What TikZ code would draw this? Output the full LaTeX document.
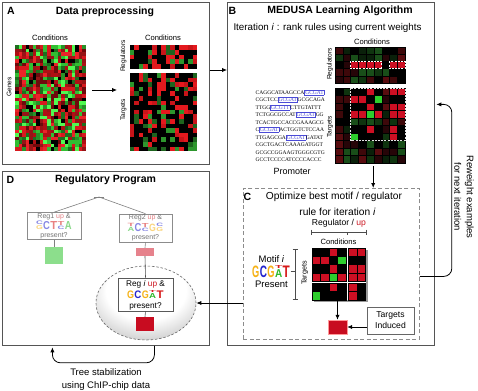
\documentclass[tikz,border=0pt]{standalone}
\usepackage{fontspec}
\setmainfont{Liberation Sans}
\newfontfamily\seqfont{Liberation Serif}
\usepackage{graphicx}
\usetikzlibrary{arrows.meta,shapes.geometric}

\definecolor{lgG}{RGB}{246,178,22}
\definecolor{lgC}{RGB}{35,35,205}
\definecolor{lgT}{RGB}{215,25,25}
\definecolor{lgA}{RGB}{45,185,45}
\definecolor{upred}{RGB}{205,25,35}
\definecolor{cR}{RGB}{205,15,35}
\definecolor{cG}{RGB}{45,205,45}
\colorlet{cK}{black}
\definecolor{boxblue}{RGB}{75,75,215}
\definecolor{sqred}{RGB}{200,12,32}
\definecolor{sqgreen}{RGB}{140,222,140}
\definecolor{sqpink}{RGB}{230,130,140}
\definecolor{panelgray}{RGB}{85,85,85}
% palette A left
\definecolor{pa0}{RGB}{0,0,0}
\definecolor{pa1}{RGB}{30,110,30}
\definecolor{pa2}{RGB}{50,190,50}
\definecolor{pa3}{RGB}{80,250,80}
\definecolor{pa4}{RGB}{110,10,12}
\definecolor{pa5}{RGB}{175,15,20}
\definecolor{pa6}{RGB}{235,35,40}
\definecolor{pa7}{RGB}{150,20,22}
\definecolor{pa8}{RGB}{40,145,40}
\definecolor{pa9}{RGB}{215,25,30}
% palette A right
\colorlet{pb0}{black}\colorlet{pb1}{black}\colorlet{pb2}{black}\colorlet{pb3}{black}\colorlet{pb4}{black}
\definecolor{pb5}{RGB}{228,25,30}\definecolor{pb6}{RGB}{228,25,30}\definecolor{pb7}{RGB}{200,20,25}
\definecolor{pb8}{RGB}{30,100,30}\definecolor{pb9}{RGB}{45,150,45}
% palette B dark
\colorlet{pc0}{black}\colorlet{pc1}{black}
\definecolor{pc2}{RGB}{15,52,15}
\definecolor{pc3}{RGB}{25,78,25}
\definecolor{pc4}{RGB}{10,32,10}
\definecolor{pc5}{RGB}{62,8,10}
\definecolor{pc6}{RGB}{38,5,8}
\definecolor{pc7}{RGB}{88,12,15}

\pgfdeclareradialshading{ellsh}{\pgfpoint{0bp}{12bp}}{color(0bp)=(white); color(20bp)=(white); color(47bp)=(black!40); color(70bp)=(black!40)}

\newcommand{\LG}[4]{\resizebox{#1pt}{#2pt}{\textcolor{#3}{\bfseries #4}}\kern0.4pt}
\newcommand{\LGS}[7]{\rlap{\raisebox{\dimexpr#5pt+0.6pt\relax}{\LG{#1}{#2}{#3}{#4}}}\LG{#1}{#5}{#6}{#7}}
\newcommand{\bx}[1]{{\setlength{\fboxsep}{0.4pt}\setlength{\fboxrule}{0.45pt}\textcolor{boxblue}{\fbox{#1}}}}

\begin{document}
\begin{tikzpicture}[x=1pt,y=-1pt,
  panel/.style={draw=panelgray, line width=0.8pt, inner sep=0pt, anchor=north west},
  arr/.style={-{Latex[length=5pt,width=4.2pt]}, line width=0.8pt},
  ttl/.style={inner sep=0pt, font=\fontsize{10.5}{12}\selectfont\bfseries},
  txt/.style={inner sep=0pt, font=\fontsize{9.8}{12}\selectfont},
  small/.style={inner sep=0pt, font=\fontsize{7.6}{9}\selectfont},
  tiny/.style={inner sep=0pt, font=\fontsize{6.6}{8}\selectfont},
  hm/.style={inner sep=0pt, minimum width=#1, anchor=north west},
  dbox/.style={draw=black!45, line width=0.6pt, inner sep=0pt, fill=white},
  dtxt/.style={inner sep=0pt, text=black!55, font=\fontsize{7}{8}\selectfont},
  etxt/.style={inner sep=0pt, font=\fontsize{8.3}{9}\selectfont},
  tline/.style={draw=black!50, line width=0.6pt}
]
\useasboundingbox (0,0) rectangle (478,390);
\fill[white] (0,0) rectangle (478,390);

% ---------------- panels ----------------
\node[panel, minimum width=207pt, minimum height=162pt] (pA) at (2,2) {};
\node[panel, minimum width=207pt, minimum height=343pt] (pB) at (227,2) {};
\node[panel, minimum width=207pt, minimum height=174pt] (pD) at (2,171) {};
\node[panel, draw=black!45, dashed, dash pattern=on 4pt off 2.5pt, minimum width=176pt, minimum height=151pt] (pC) at (243,188) {};

% ---------------- panel A ----------------
\node[ttl] (lA) at (11,11) {A};
\node[ttl] (tA) at (105,12) {Data preprocessing};
\node[small] (cA1) at (50,38) {Conditions};
\node[small] (cA2) at (163,38) {Conditions};
\node[tiny, rotate=90] (gA) at (9,87) {Genes};
\node[tiny, rotate=90] (rA) at (123.5,56) {Regulators};
\node[tiny, rotate=90] (tgA) at (123.5,110) {Targets};

\pgfmathsetseed{4321}
\foreach \i in {0,...,19}{
  \foreach \j in {0,...,29}{
    \pgfmathrandominteger{\r}{0}{9}
    \fill[fill=pa\r] ({15+\i*3.55},{45+\j*3.53}) rectangle ++(3.6,3.58);
  }
}
\node[hm=71pt, minimum height=106pt] (hmAL) at (15,45) {};
\foreach \i in {0,...,14}{
  \foreach \j in {0,...,4}{
    \pgfmathrandominteger{\r}{0}{9}
    \fill[fill=pb\r] ({129.5+\i*4.5},{45+\j*4.8}) rectangle ++(4.55,4.85);
  }
  \foreach \j in {0,...,16}{
    \pgfmathrandominteger{\r}{0}{9}
    \fill[fill=pb\r] ({129.5+\i*4.5},{73+\j*4.6}) rectangle ++(4.55,4.65);
  }
}
\node[hm=67.5pt, minimum height=24pt] (hmAR) at (129.5,45) {};
\node[hm=67.5pt, minimum height=78pt] (hmAT) at (129.5,73) {};
\coordinate (aAs) at (92,90);
\coordinate (aAe) at (117,90);
\draw[arr] (aAs) -- (aAe);

\draw[arr] (pA.east |- 0,70) -- (pB.west |- 0,70);

% ---------------- panel B ----------------
\node[ttl] (lB) at (232.5,10.5) {B};
\node[ttl] (tB) at (340,11) {MEDUSA Learning Algorithm};
\node[txt] (itB) at (327.5,28) {Iteration \textit{i} : rank rules using current weights};
\node[small] (cB) at (372,42) {Conditions};
\node[tiny, rotate=90] (rB) at (330,64) {Regulators};
\node[tiny, rotate=90] (tgB) at (330,127) {Targets};

\pgfmathsetseed{777}
\foreach \i in {0,...,8}{
  \foreach \j in {0,...,4}{
    \pgfmathrandominteger{\r}{0}{7}
    \filldraw[fill=pc\r, draw=black, line width=0.3pt] ({335+\i*7.78},{47+\j*7.2}) rectangle ++(7.78,7.2);
  }
  \foreach \j in {0,...,9}{
    \pgfmathrandominteger{\r}{0}{7}
    \filldraw[fill=pc\r, draw=black, line width=0.3pt] ({335+\i*7.78},{88+\j*7.5}) rectangle ++(7.78,7.5);
  }
}
% regulator row
\foreach \i in {2,3,4,5,7,8}{
  \filldraw[fill=cR, draw=black, line width=0.3pt] ({335+\i*7.78},{47+2*7.2}) rectangle ++(7.78,7.2);
}
\draw[white, line width=0.7pt, dash pattern=on 2pt off 1.2pt] ({335+2*7.78},{47+2*7.2}) rectangle ++({4*7.78},7.2);
\draw[white, line width=0.7pt, dash pattern=on 2pt off 1.2pt] ({335+7*7.78},{47+2*7.2}) rectangle ++({2*7.78},7.2);
% target region
\foreach \i in {2,3,4,5,7,8}{
  \foreach \j in {0,1,2,3,5,6}{
    \filldraw[fill=black, draw=black, line width=0.3pt] ({335+\i*7.78},{88+\j*7.5}) rectangle ++(7.78,7.5);
  }
}
\foreach \i/\j/\c in {4/0/cR,7/0/cR,8/0/cR,2/1/cR,3/1/cR,5/1/cG,4/2/cR,7/2/cR,8/2/cR,
  2/3/cR,3/3/cR,4/3/cG,5/3/cR,7/3/cR,8/3/cR,2/4/pc3,3/4/pc2,4/4/pc3,5/4/pc2,4/5/cR,7/5/cR,2/6/cG,7/6/cR}{
  \filldraw[fill=\c, draw=black, line width=0.3pt] ({335+\i*7.78},{88+\j*7.5}) rectangle ++(7.78,7.5);
}
\draw[white!80!gray, line width=0.7pt, dash pattern=on 2pt off 1.2pt] ({335+2*7.78},88) rectangle (405,{88+7*7.5});
\node[hm=70pt, minimum height=36pt] (hmBR) at (335,47) {};
\node[hm=70pt, minimum height=75pt] (hmBT) at (335,88) {};

\node[inner sep=0pt, anchor=north west, align=left, font=\seqfont\fontsize{5.5}{7.5}\selectfont] (prom) at (255.5,89.5) {%
CAGGCATAAGCCA\bx{GCGAT}\\
CGCTCC\bx{GCGAT}GCGCAGA\\
TTGG\bx{GCGTT}CTTGTATTT\\
TCTGGCGCCAT\bx{GCGAT}GG\\
TCACTGCCACCGAAAGCG\\
C\bx{GCGAT}ACTGGTCTCCAA\\
TTGAGCGA\bx{GCGAT}GATAT\\
CGCTGACTCAAAGATGGT\\
GCGCCGGAAGTGGGCGTG\\
GCCTCCCCATCCCCACCC};
\node[inner sep=0pt, font=\fontsize{9}{10}\selectfont] (promL) at (292,171) {Promoter};

\draw[arr] ([xshift=3pt,yshift=-3pt]hmBT.south) -- ([xshift=3pt]hmBT.south |- pC.north);

% feedback loop
\draw[arr, rounded corners=8pt] ([yshift=-12.5pt]pC.east) -- ++(32,0) |- ([xshift=1.5pt,yshift=69.5pt]pB.east);
\node[inner sep=0pt, rotate=-90, align=center, font=\fontsize{9.5}{12.5}\selectfont] (rw) at (464,197) {Reweight examples\\for next iteration};

% ---------------- panel C ----------------
\node[ttl] (lC) at (247.5,196.5) {C};
\node[txt, font=\fontsize{10.2}{12}\selectfont] (tC1) at (334,197) {Optimize best motif / regulator};
\node[txt, font=\fontsize{10.2}{12}\selectfont] (tC2) at (337.5,211.5) {rule for iteration \textit{i}};
\node[inner sep=0pt, font=\fontsize{8.6}{10}\selectfont] (regC) at (339,223.5) {Regulator / \textcolor{upred}{up}};
\draw[line width=0.6pt, black!70] (311,232) -- (366,232) (311,229.5) -- (311,234.5) (366,229.5) -- (366,234.5) (347,232) -- (347,234.5);
\node[small] (cC) at (338.5,241.5) {Conditions};
\node[inner sep=0pt, font=\fontsize{9.5}{11}\selectfont] (motC) at (271.5,259.5) {Motif \textit{i}};
\node[inner sep=0pt, anchor=base west] (logoC) at (252,277) {\LG{7.2}{11.5}{lgG}{G}\LG{7.2}{11.5}{lgC}{C}\LG{7.2}{11.5}{lgG}{G}\LGS{7.2}{3}{lgT}{T}{7.9}{lgA}{A}\LG{7.2}{11.5}{lgT}{T}};
\node[inner sep=0pt, font=\fontsize{9.5}{11}\selectfont] (preC) at (271.5,284) {Present};
\draw[line width=0.6pt, black!70] (295,249) -- (295,299) (292.5,249) -- (297.5,249) (292.5,299) -- (297.5,299) (290.5,271) -- (295,271);
\node[tiny, font=\fontsize{7.2}{8}\selectfont, rotate=90] (tgC) at (305,273) {Targets};

\fill[black!40] (314,250) rectangle (367.5,302);
\fill[white] (312,248) rectangle (365.5,300);
\foreach \c [count=\k from 0] in {cK,cK,cR,cK,cR,cR, cR,cR,cK,cG,cK,cK, cK,cK,cR,cK,cR,cR, cR,cR,cG,cR,cR,cR, cK,cK,cR,cK,cR,cK, cG,cK,cK,cK,cR,cK}{
  \pgfmathtruncatemacro{\hcol}{mod(\k,6)}
  \pgfmathtruncatemacro{\hrow}{\k/6}
  \pgfmathsetmacro{\xx}{\hcol<4 ? 312+\hcol*8.5 : 348.5+(\hcol-4)*8.5}
  \pgfmathsetmacro{\yy}{\hrow<4 ? 248+\hrow*8.25 : 283+(\hrow-4)*8.5}
  \pgfmathsetmacro{\hh}{\hrow<4 ? 8.25 : 8.5}
  \filldraw[fill=\c, draw=black, line width=0.3pt] (\xx,\yy) rectangle ++(8.5,\hh);
}
\node[hm=53.5pt, minimum height=52pt] (hmC) at (312,248) {};

\node[inner sep=0pt, minimum width=19pt, minimum height=14pt, fill=sqred, draw=red!40, line width=0.4pt] (crC) at (337.5,327) {};
\node[draw=black!60, line width=0.6pt, inner sep=0pt, minimum width=47pt, minimum height=27pt, align=center, font=\fontsize{8.6}{11}\selectfont] (ti) at (390.5,320.5) {Targets\\Induced};
\draw[arr] (hmC.south -| crC.north) -- (crC.north);
\draw[arr] (ti.west |- crC.east) -- (crC.east);

% ---------------- panel D ----------------
\node[ttl] (lD) at (10.5,179.5) {D};
\node[ttl] (tD) at (105.5,179.5) {Regulatory Program};

\node[inner sep=0pt, minimum width=10pt, minimum height=0pt] (root) at (99,197) {};
\draw[tline] (root.west) -- (root.east);

\node[dbox, minimum width=54pt, minimum height=27pt] (lb) at (54,226) {};
\node[dbox, minimum width=53pt, minimum height=28pt] (rb) at (145.5,228) {};
\draw[tline] (root.center) -- (lb.north);
\draw[tline] (root.center) -- (rb.north);

\node[dtxt] (lb1) at (54,216.5) {Reg1 \textcolor{upred!55!white}{up} \&};
\node[inner sep=0pt, anchor=base] (lb2) at (54,229) {\LGS{6.8}{3.6}{lgC!55!white}{C}{3.9}{lgG!55!white}{G}\LG{6.8}{8}{lgC!55!white}{C}\LG{6.8}{8}{lgT!55!white}{T}\LGS{6.8}{4}{lgT!55!white}{T}{3.4}{lgC!55!white}{C}\LG{6.8}{8}{lgA!55!white}{A}};
\node[dtxt] (lb3) at (54,235.5) {present?};

\node[dtxt] (rb1) at (145.5,218) {Reg2 \textcolor{upred!55!white}{up} \&};
\node[inner sep=0pt, anchor=base] (rb2) at (145.5,231) {\LGS{6.8}{3.2}{lgT!55!white}{T}{4.2}{lgA!55!white}{A}\LG{6.8}{8}{lgC!55!white}{C}\LGS{6.8}{4}{lgT!55!white}{T}{3.4}{lgC!55!white}{C}\LG{6.8}{7.4}{lgG!55!white}{G}\LGS{6.8}{3.4}{lgC!55!white}{C}{4}{lgG!55!white}{G}};
\node[dtxt] (rb3) at (145.5,238) {present?};

\node[inner sep=0pt, minimum width=18pt, minimum height=17pt, fill=sqgreen] (gsq) at (54,255.5) {};
\node[inner sep=0pt, minimum width=18pt, minimum height=8pt, fill=sqpink] (psq) at (145,252) {};
\draw[tline] (lb.south) -- (gsq.north);
\draw[tline] (rb.south) -- (psq.north);

\node[ellipse, draw=black!60, line width=0.6pt, dash pattern=on 2.5pt off 1.8pt, minimum width=100pt, minimum height=74pt, shading=ellsh] (el) at (146,303) {};
\node[draw=black!65, line width=0.6pt, inner sep=0pt, fill=white, minimum width=55pt, minimum height=33pt] (eb) at (145.5,294.5) {};
\draw[tline, draw=black!70] (psq.south) -- (eb.north);
\node[etxt] (eb1) at (145.5,284) {Reg \textit{i} \textcolor{upred}{up} \&};
\node[inner sep=0pt, anchor=base] (eb2) at (145.5,298) {\LG{7}{7.6}{lgG}{G}\LG{7}{7.6}{lgC}{C}\LG{7}{7.6}{lgG}{G}\LGS{7}{2}{lgT}{T}{5}{lgA}{A}\LG{7}{7.6}{lgT}{T}};
\node[etxt] (eb3) at (145.5,306.5) {present?};
\node[inner sep=0pt, minimum width=18pt, minimum height=14pt, fill=sqred] (esq) at (145,324) {};
\draw[tline, draw=black!70] (eb.south) -- (esq.north);

\draw[arr] (pC.west |- el.east) -- (el.east);

\draw[arr, rounded corners=8pt] ([xshift=48.5pt]pD.south) -- ++(0,17) -| ([xshift=-53.5pt,yshift=-1.5pt]pD.south);
\node[inner sep=0pt, align=center, font=\fontsize{9.5}{13}\selectfont] (ts) at (106,379.5) {Tree stabilization\\using ChIP-chip data};
\end{tikzpicture}
\end{document}
